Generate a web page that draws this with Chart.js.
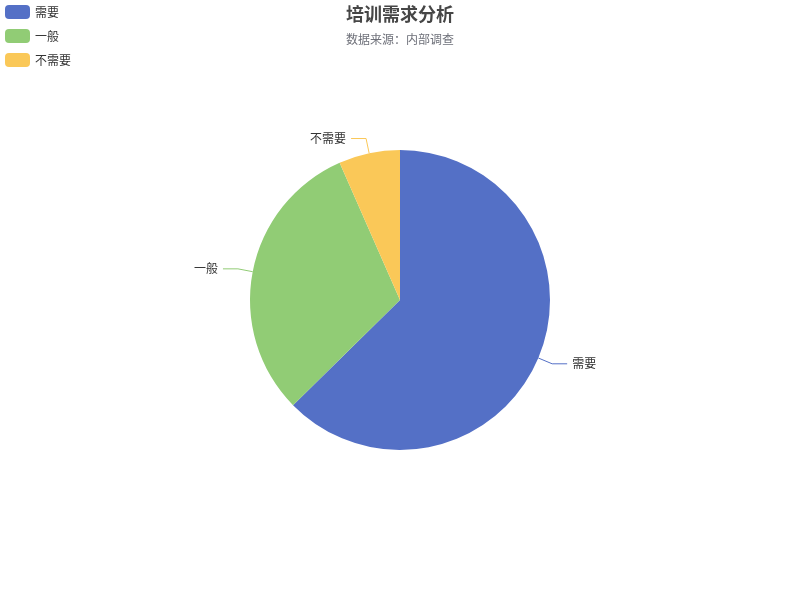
<!DOCTYPE html>
<html>
<head>
<meta charset="utf-8">
<script src="https://cdn.jsdelivr.net/npm/chart.js@4"></script>
<style>
  html, body { margin: 0; padding: 0; background: #fff; }
  #wrap { width: 800px; height: 600px; position: relative; }
</style>
</head>
<body>
<div id="wrap"><canvas id="myChart" width="800" height="600"></canvas></div>
<script>
const categories = ['需要', '一般', '不需要'];
const counts = [57, 28, 6];
const colors = ['#5470c6', '#91cc75', '#fac858'];
const titleText = '培训需求分析';
const subtitleText = '数据来源：内部调查';

const FONT = '"Noto Sans CJK SC", "Noto Sans", sans-serif';

// title, legend and outside labels, echarts-like
const decor = {
    id: 'decor',
    afterDraw(chart) {
        const ctx = chart.ctx;
        ctx.save();

        // title
        ctx.textAlign = 'center';
        ctx.textBaseline = 'middle';
        ctx.fillStyle = '#464646';
        ctx.font = 'bold 18px ' + FONT;
        ctx.fillText(titleText, 400, 14);
        ctx.fillStyle = '#6e7079';
        ctx.font = '12px ' + FONT;
        ctx.fillText(subtitleText, 400, 39);

        // legend
        ctx.textAlign = 'left';
        categories.forEach((c, i) => {
            const y = 5 + i * 24;
            ctx.fillStyle = colors[i];
            ctx.beginPath();
            ctx.roundRect(5, y, 25, 14, 4);
            ctx.fill();
            ctx.fillStyle = '#333';
            ctx.fillText(c, 35, y + 7);
        });

        // slice labels with leader lines
        const meta = chart.getDatasetMeta(0);
        meta.data.forEach((arc, i) => {
            const mid = (arc.startAngle + arc.endAngle) / 2;
            const r = arc.outerRadius;
            const cos = Math.cos(mid), sin = Math.sin(mid);
            const x0 = arc.x + cos * r, y0 = arc.y + sin * r;
            const x1 = arc.x + cos * (r + 15), y1 = arc.y + sin * (r + 15);
            const dir = cos >= 0 ? 1 : -1;
            const x2 = x1 + dir * 15;
            ctx.strokeStyle = colors[i];
            ctx.lineWidth = 1;
            ctx.beginPath();
            ctx.moveTo(x0, y0);
            ctx.lineTo(x1, y1);
            ctx.lineTo(x2, y1);
            ctx.stroke();
            ctx.fillStyle = '#333';
            ctx.textAlign = dir > 0 ? 'left' : 'right';
            ctx.fillText(categories[i], x2 + dir * 5, y1);
        });
        ctx.restore();
    }
};

new Chart(document.getElementById('myChart'), {
    type: 'pie',
    data: {
        labels: categories,
        datasets: [{
            data: counts,
            backgroundColor: colors,
            borderWidth: 0,
            radius: 150
        }]
    },
    options: {
        responsive: false,
        animation: false,
        layout: { padding: 0 },
        plugins: {
            legend: { display: false },
            title: { display: false },
            tooltip: { enabled: false }
        }
    },
    plugins: [decor]
});
</script>
</body>
</html>
